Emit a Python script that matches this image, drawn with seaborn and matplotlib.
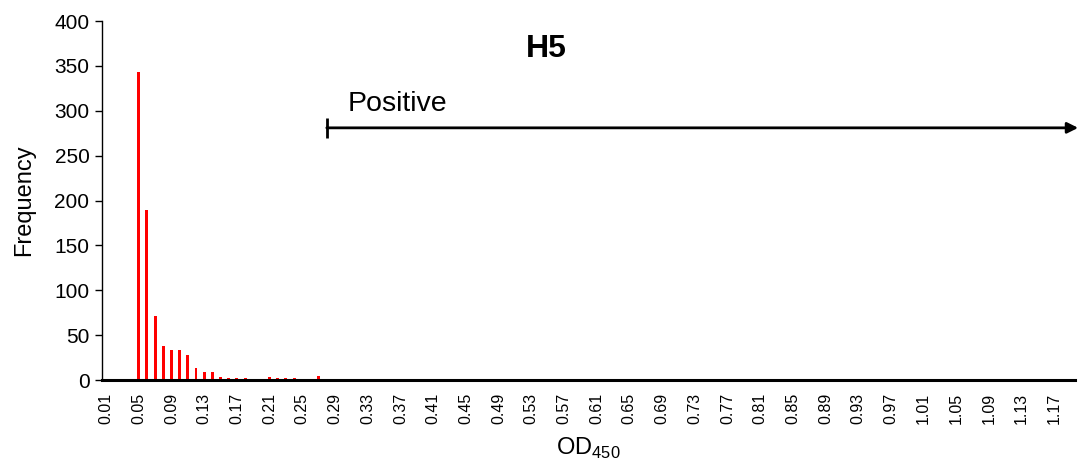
import numpy as np
import pandas as pd
import seaborn as sns
import matplotlib.pyplot as plt

sns.set_style('white')
plt.rcParams['font.family'] = ['Liberation Sans', 'DejaVu Sans']
plt.rcParams['mathtext.fontset'] = 'custom'
plt.rcParams['mathtext.rm'] = 'Liberation Sans'
plt.rcParams['text.color'] = 'black'
plt.rcParams['axes.labelcolor'] = 'black'
plt.rcParams['xtick.color'] = 'black'
plt.rcParams['ytick.color'] = 'black'

# OD450 bins 0.01 .. 1.19
od_bins = [f"{i / 100:.2f}" for i in range(1, 120)]

# bins that have counts (all others are zero)
hit_bins = ["0.05", "0.06", "0.07", "0.08", "0.09", "0.10", "0.11", "0.12",
            "0.13", "0.14", "0.15", "0.16", "0.17", "0.18", "0.21", "0.22",
            "0.23", "0.24", "0.27", "0.32"]
hit_freq = [343, 190, 71, 38, 33, 34, 28, 13,
            9, 9, 3, 2, 2, 2, 3, 2,
            2, 2, 5, 1]

cutoff_bin = "0.28"
tick_labels = od_bins[::4]

freq = dict(zip(hit_bins, hit_freq))
df = pd.DataFrame({'od': od_bins, 'freq': [freq.get(b, 0) for b in od_bins]})

fig = plt.figure(figsize=(10.78, 4.68), dpi=100)
ax = fig.add_axes([0.0946, 0.188, 0.9025, 0.767])

sns.barplot(data=df, x='od', y='freq', color='#ff0000', saturation=1,
            width=0.36, linewidth=0, ax=ax)

ax.set_ylim(0, 400)
ax.set_yticks(range(0, 401, 50))
ax.set_xlim(-0.5, len(od_bins) - 0.5)
ax.set_xticks(range(0, len(od_bins), 4))
ax.set_xticklabels(tick_labels, rotation=90, fontsize=11.5)
ax.tick_params(axis='y', labelsize=15, length=5, width=1, direction='out',
               left=True, pad=4)
ax.tick_params(axis='x', length=0, pad=9)

sns.despine(ax=ax)
ax.spines['left'].set_color('black')
ax.spines['left'].set_linewidth(1)
ax.spines['bottom'].set_color('black')
ax.spines['bottom'].set_linewidth(2.2)

ax.set_ylabel('Frequency', fontsize=17, labelpad=14)
ax.set_xlabel(r'OD$_{\mathregular{450}}$', fontsize=17, labelpad=9)

# positive range arrow
x0 = od_bins.index(cutoff_bin)
ax.annotate('', xy=(len(od_bins) - 0.1, 281), xytext=(x0, 281),
            arrowprops=dict(arrowstyle='-|>', color='black', lw=2,
                            mutation_scale=16, shrinkA=0, shrinkB=0),
            annotation_clip=False)
ax.plot([x0], [281], marker='|', markersize=15, markeredgewidth=2,
        color='black', clip_on=False)
ax.text(x0 + 2.6, 308, 'Positive', fontsize=20.5, va='center', ha='left')
ax.text(53.8, 369, 'H5', fontsize=23, fontweight='bold', ha='center',
        va='center')

fig.savefig('out.png', dpi=100)
